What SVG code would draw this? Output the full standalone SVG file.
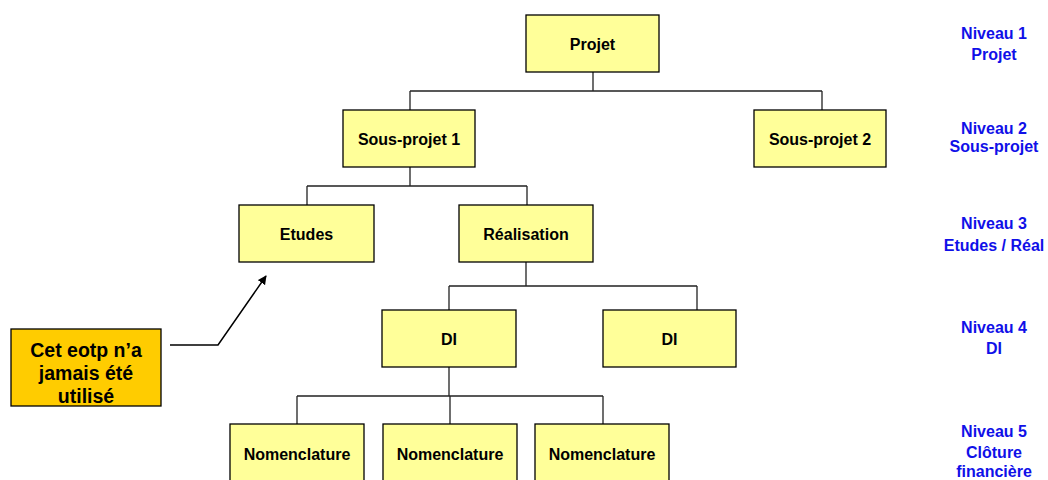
<svg xmlns="http://www.w3.org/2000/svg" width="1048" height="480" viewBox="0 0 1048 480">
<defs>
<style>
.box{fill:#FFFF99;stroke:#000;stroke-width:1.3}
.t{font-family:"Liberation Sans",Arial,sans-serif;font-weight:bold;font-size:16px;fill:#000;text-anchor:middle}
.lv{font-family:"Liberation Sans",Arial,sans-serif;font-weight:bold;font-size:16px;fill:#1010E8;text-anchor:middle}
.c{fill:none;stroke:#222;stroke-width:1.3}
.ct{font-family:"Liberation Sans",Arial,sans-serif;font-weight:bold;font-size:19.5px;fill:#000;text-anchor:middle}
</style>
<marker id="ah" viewBox="0 0 10 10" refX="9" refY="5" markerWidth="9" markerHeight="9" orient="auto" markerUnits="userSpaceOnUse">
<path d="M0,0 L10,5 L0,10 z" fill="#000"/>
</marker>
</defs>
<rect width="1048" height="480" fill="#fff"/>
<g id="connectors">
<path class="c" d="M593,72 V91 M410,91 H822 M410,91 V110 M822,91 V110"/>
<path class="c" d="M410,167 V186 M307,186 H527 M307,186 V205 M527,186 V205"/>
<path class="c" d="M526,262 V286 M449,286 H697 M449,286 V310 M697,286 V310"/>
<path class="c" d="M449,367 V396 M297,396 H603 M297,396 V424 M450,396 V424 M603,396 V424"/>
<path fill="none" stroke="#000" stroke-width="1.5" d="M170,345 H218 L266,276" marker-end="url(#ah)"/>
</g>
<g id="projet"><rect class="box" x="526" y="15" width="133" height="57"/><text class="t" x="592.5" y="49.5">Projet</text></g>
<g id="sousprojet1"><rect class="box" x="343" y="110" width="132" height="57"/><text class="t" x="409" y="144.5">Sous-projet 1</text></g>
<g id="sousprojet2"><rect class="box" x="754" y="110" width="132" height="57"/><text class="t" x="820" y="144.5">Sous-projet 2</text></g>
<g id="etudes"><rect class="box" x="239" y="205" width="135" height="57"/><text class="t" x="306.5" y="239.5">Etudes</text></g>
<g id="realisation"><rect class="box" x="459" y="205" width="134" height="57"/><text class="t" x="526" y="239.5">Réalisation</text></g>
<g id="di1"><rect class="box" x="382" y="310" width="134" height="57"/><text class="t" x="449" y="344.5">DI</text></g>
<g id="di2"><rect class="box" x="603" y="310" width="133" height="57"/><text class="t" x="669.5" y="344.5">DI</text></g>
<g id="nom1"><rect class="box" x="230" y="424" width="134" height="70"/><text class="t" x="297" y="460">Nomenclature</text></g>
<g id="nom2"><rect class="box" x="383" y="424" width="134" height="70"/><text class="t" x="450" y="460">Nomenclature</text></g>
<g id="nom3"><rect class="box" x="535" y="424" width="134" height="70"/><text class="t" x="602" y="460">Nomenclature</text></g>
<g id="callout"><rect x="11" y="329" width="150" height="77" fill="#FFCC00" stroke="#000" stroke-width="1.3"/>
<text class="ct" x="86" y="357">Cet eotp n’a</text>
<text class="ct" x="86" y="380">jamais été</text>
<text class="ct" x="86" y="403">utilisé</text></g>
<g id="levels">
<text class="lv" x="994" y="39">Niveau 1</text><text class="lv" x="994" y="59.5">Projet</text>
<text class="lv" x="994" y="133.5">Niveau 2</text><text class="lv" x="994" y="152">Sous-projet</text>
<text class="lv" x="994" y="229">Niveau 3</text><text class="lv" x="994" y="251">Etudes / Réal</text>
<text class="lv" x="994" y="333">Niveau 4</text><text class="lv" x="994" y="354">DI</text>
<text class="lv" x="994" y="437">Niveau 5</text><text class="lv" x="994" y="458">Clôture</text><text class="lv" x="994" y="477">financière</text>
</g>
</svg>
